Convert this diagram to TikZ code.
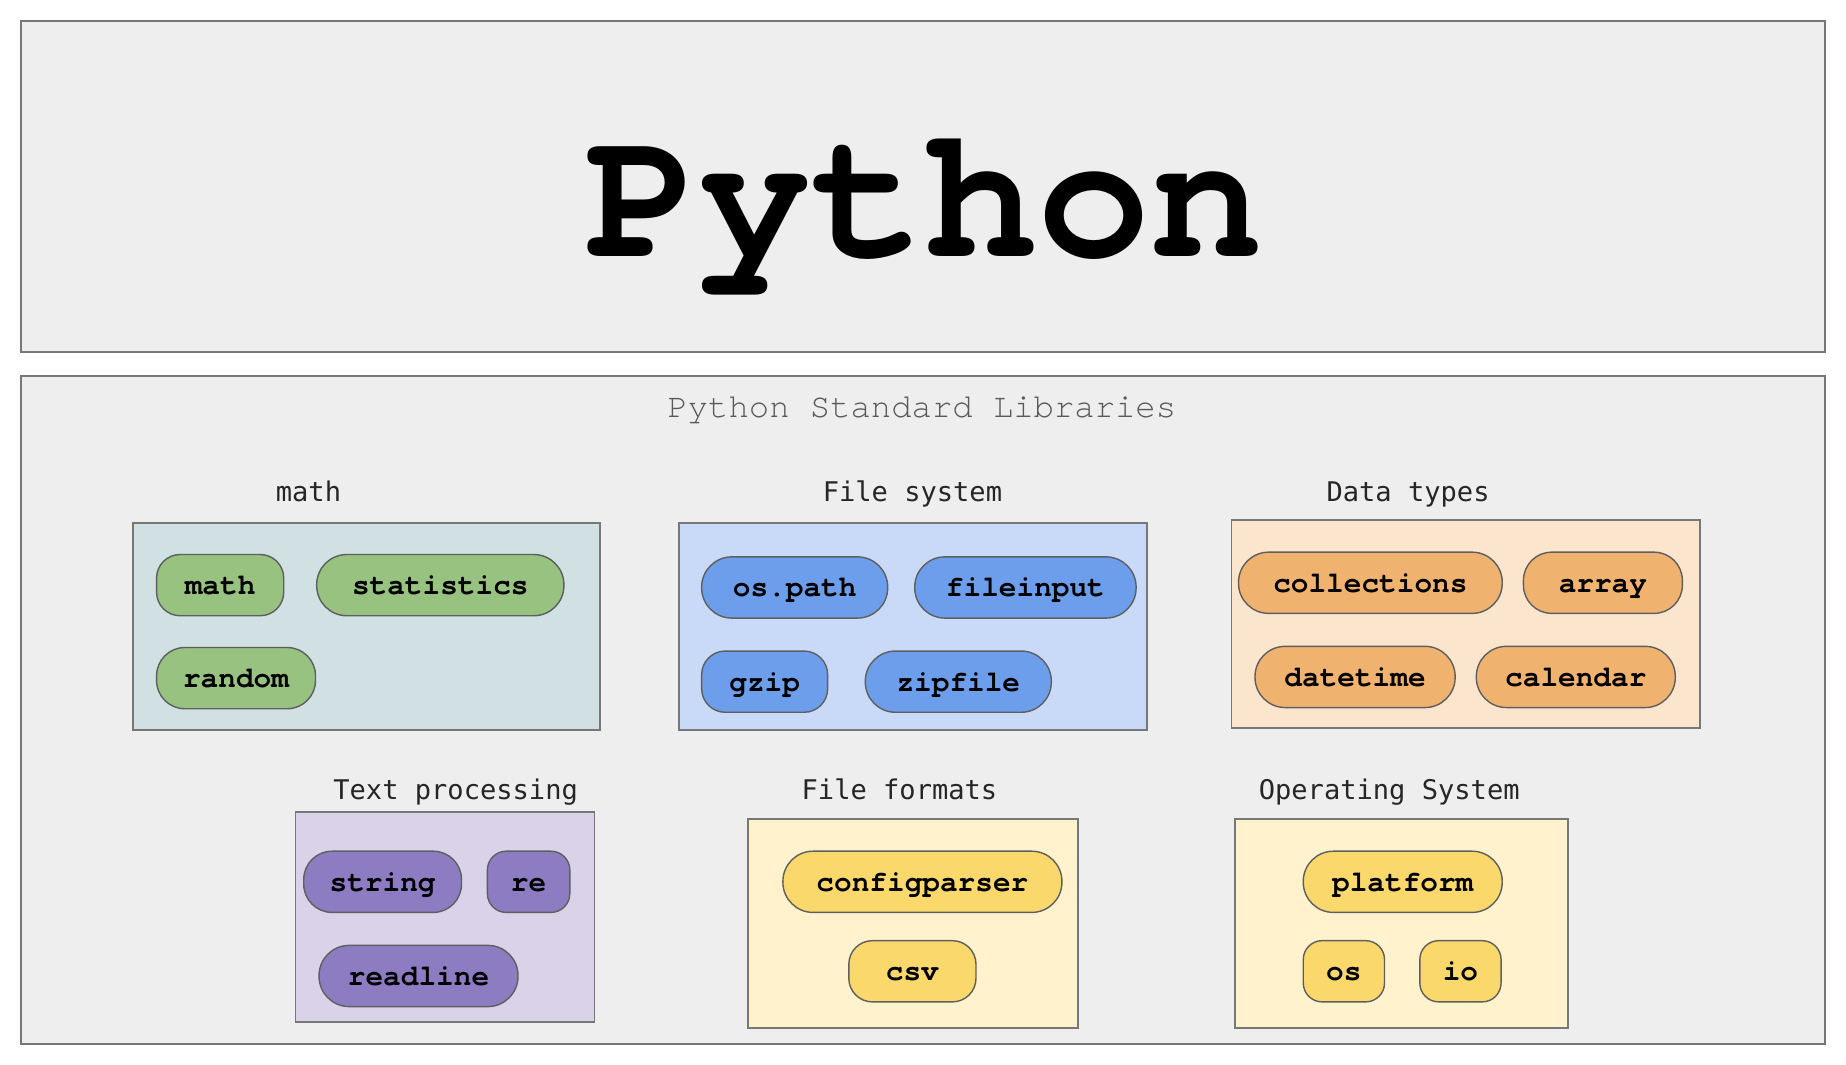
\documentclass[tikz,border=0pt]{standalone}
\usepackage{fontspec}
\newfontfamily\courfont{texgyrecursor}[Extension=.otf, UprightFont=*-regular, BoldFont=*-bold, Ligatures={NoCommon}]
\newfontfamily\labfont{DejaVu Sans Mono}
\definecolor{bgbox}{HTML}{EEEEEE}
\definecolor{edgegray}{HTML}{777777}
\definecolor{pilledge}{HTML}{5F5F5F}
\definecolor{cyanlt}{HTML}{D0E0E3}
\definecolor{bluelt}{HTML}{C9DAF8}
\definecolor{orangelt}{HTML}{FCE5CD}
\definecolor{purplelt}{HTML}{D9D2E9}
\definecolor{yellowlt}{HTML}{FFF2CC}
\definecolor{greenpill}{HTML}{97C27F}
\definecolor{bluepill}{HTML}{6D9EEB}
\definecolor{orangepill}{HTML}{EFB26F}
\definecolor{purplepill}{HTML}{8E7CC3}
\definecolor{yellowpill}{HTML}{FAD86C}
\tikzset{
  outerbox/.style={draw=edgegray, line width=0.9pt, fill=bgbox},
  groupbox/.style={draw=edgegray, line width=0.8pt},
  grouplabel/.style={font=\labfont\fontsize{11.5}{12}\selectfont, text=black!85, anchor=base, inner sep=0pt},
  pill/.style={draw=pilledge, line width=0.6pt, rounded corners=12.8pt, minimum height=26pt,
    inner sep=0pt, text height=9pt, text depth=1pt,
    font=\courfont\bfseries\fontsize{12.5}{13}\selectfont},
  gpill/.style={pill, fill=greenpill},
  bpill/.style={pill, fill=bluepill},
  opill/.style={pill, fill=orangepill},
  ppill/.style={pill, fill=purplepill},
  ypill/.style={pill, fill=yellowpill},
}
\begin{document}
\begin{tikzpicture}[x=0.5pt, y=-0.5pt]
\useasboundingbox (0,0) rectangle (1568,904);
% outer boxes
\draw[outerbox] (18,18) rectangle (1550,299);
\draw[outerbox] (18,319) rectangle (1550,887);
\node[font=\courfont\bfseries\fontsize{80}{80}\selectfont, anchor=base, inner sep=0pt] (title) at (785,218) {Python};
\node[font=\courfont\fontsize{14.4}{15}\selectfont, text=black!65, anchor=base, inner sep=0pt] (sub) at (783,355) {Python Standard Libraries};

% group boxes
\draw[groupbox, fill=cyanlt] (113,444) rectangle (510,620);
\draw[groupbox, fill=bluelt] (577,444) rectangle (974,620);
\draw[groupbox, fill=orangelt] (1046,442) rectangle (1444,618);
\draw[groupbox, fill=purplelt] (251,690) rectangle (505,868);
\draw[groupbox, fill=yellowlt] (635,696) rectangle (916,873);
\draw[groupbox, fill=yellowlt] (1049,696) rectangle (1332,873);

% group labels
\node[grouplabel] (lmath) at (262,426) {math};
\node[grouplabel] (lfs) at (775,426) {File system};
\node[grouplabel] (ldt) at (1196,426) {Data types};
\node[grouplabel] (ltp) at (387,679) {Text processing};
\node[grouplabel] (lff) at (764,679) {File formats};
\node[grouplabel] (los) at (1180,679) {Operating System};

% math
\node[gpill, minimum width=54pt, rounded corners=10pt] (math) at (187,497) {math};
\node[gpill, minimum width=105pt] (statistics) at (374,497) {statistics};
\node[gpill, minimum width=67.5pt, rounded corners=12pt] (random) at (200.5,576) {random};
% file system
\node[bpill, minimum width=79pt] (ospath) at (675,499) {os.path};
\node[bpill, minimum width=94pt] (fileinput) at (871,499) {fileinput};
\node[bpill, minimum width=53.5pt, rounded corners=10pt] (gzip) at (649.5,579) {gzip};
\node[bpill, minimum width=79pt] (zipfile) at (814,579) {zipfile};
% data types
\node[opill, minimum width=112pt] (collections) at (1164,495) {collections};
\node[opill, minimum width=67.5pt, rounded corners=12pt] (array) at (1361.5,495) {array};
\node[opill, minimum width=85pt] (datetime) at (1151,575) {datetime};
\node[opill, minimum width=84.5pt] (calendar) at (1338.5,575) {calendar};
% text processing
\node[ppill, minimum width=67pt, rounded corners=12pt] (string) at (325,749) {string};
\node[ppill, minimum width=35pt, rounded corners=8pt] (re) at (449,749) {re};
\node[ppill, minimum width=84.5pt] (readline) at (355.5,829) {readline};
% file formats
\node[ypill, minimum width=118.5pt] (configparser) at (783.5,749) {configparser};
\node[ypill, minimum width=54pt, rounded corners=10pt] (csv) at (775,825) {csv};
% operating system
\node[ypill, minimum width=84.5pt] (platform) at (1191.5,749) {platform};
\node[ypill, minimum width=34.5pt, rounded corners=8pt] (os) at (1141.5,825) {os};
\node[ypill, minimum width=34.5pt, rounded corners=8pt] (io) at (1240.5,825) {io};
\end{tikzpicture}
\end{document}
